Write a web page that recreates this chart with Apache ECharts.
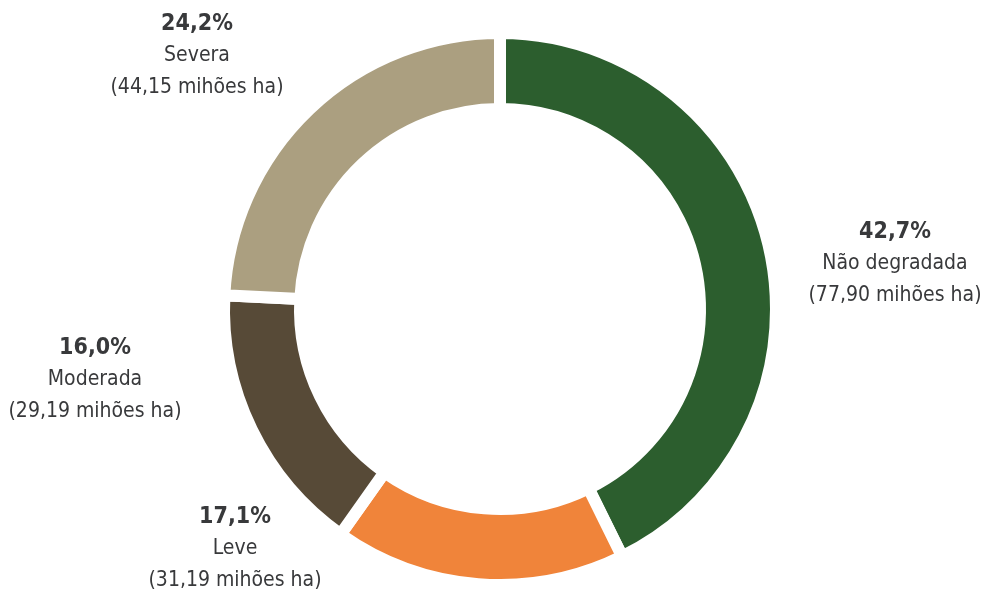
<!DOCTYPE html>
<html><head><meta charset="utf-8">
<script src="https://cdn.jsdelivr.net/npm/echarts@6/dist/echarts.min.js"></script>
<style>html,body{margin:0;padding:0;background:#fff}#c{width:984px;height:590px}</style>
</head><body><div id="c"></div>
<script>
const categories = ['Não degradada', 'Leve', 'Moderada', 'Severa'];
const valuesMha = [77.90, 31.19, 29.19, 44.15];
const percentLabels = ['42,7%', '17,1%', '16,0%', '24,2%'];
const areaLabels = ['77,90', '31,19', '29,19', '44,15'];

const colors = ['#2c5e2e', '#f0843a', '#574a37', '#ab9f80'];
const labelPos = [[895, 264], [235, 549], [95, 380], [197, 56]];
const FONT = '"DejaVu Sans Condensed","Liberation Sans Narrow",sans-serif';

const chart = echarts.init(document.getElementById('c'), null, {renderer: 'canvas'});
chart.setOption({
  animation: false,
  series: [{
    type: 'pie',
    center: [500, 309],
    radius: [200, 276],
    startAngle: 90,
    clockwise: true,
    itemStyle: {borderColor: '#fff', borderWidth: 12},
    labelLine: {show: false},
    label: {
      show: true,
      position: 'outside',
      align: 'center',
      overflow: 'none',
      formatter: p => '{p|' + percentLabels[p.dataIndex] + '}\n{n|' + p.name + '}\n{n|(' + areaLabels[p.dataIndex] + ' mihões ha)}',
      rich: {
        p: {fontFamily: FONT, fontSize: 23, fontWeight: 'bold', color: '#38393b', lineHeight: 32, align: 'center'},
        n: {fontFamily: FONT, fontSize: 21, color: '#38393b', lineHeight: 32, align: 'center'}
      }
    },
    labelLayout: p => ({x: labelPos[p.dataIndex][0], y: labelPos[p.dataIndex][1], align: 'center', verticalAlign: 'middle'}),
    emphasis: {disabled: true},
    data: categories.map((c, i) => ({name: c, value: valuesMha[i], itemStyle: {color: colors[i]}}))
  }]
});
</script></body></html>
